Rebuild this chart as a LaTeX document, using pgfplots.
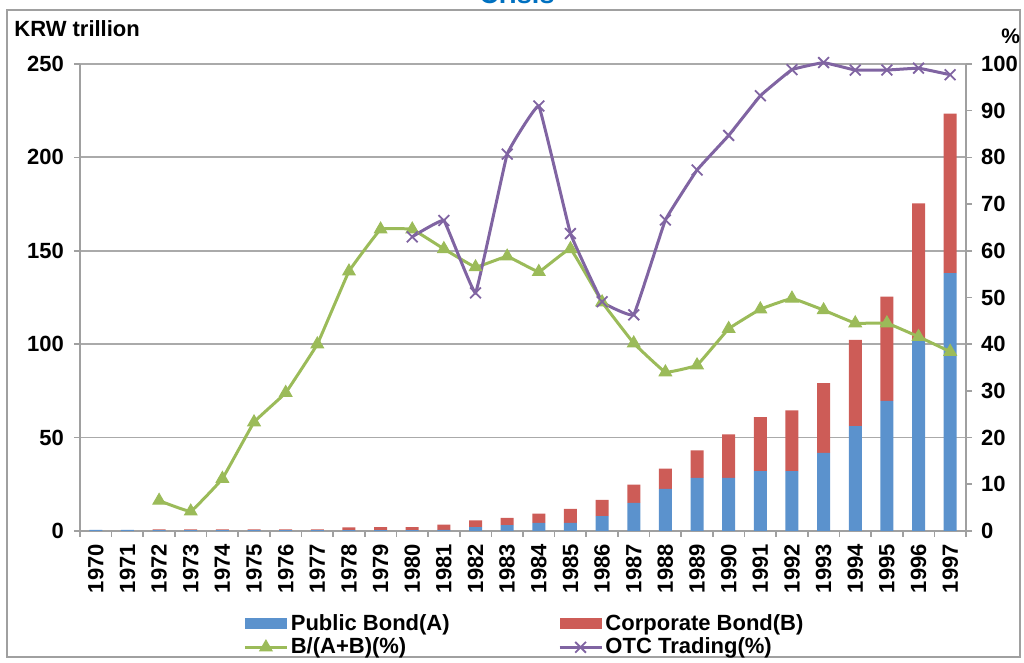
\documentclass[border=0pt]{standalone}
\usepackage{fontspec}
\setmainfont{Liberation Sans}
\usepackage{pgfplots}
\usepackage{pgfplotstable}
\pgfplotsset{compat=1.18}
\definecolor{cblue}{HTML}{5B92CD}
\definecolor{cred}{HTML}{CD5C57}
\definecolor{cgreen}{HTML}{9BBB59}
\definecolor{cpurple}{HTML}{8064A2}
\definecolor{ctitle}{HTML}{0070C0}
\definecolor{caxis}{HTML}{A0A0A0}
\pgfplotsset{
  barleg/.style={legend image code/.code={\fill[##1] (0pt,-2.6pt) rectangle (21pt,2.6pt);}},
  linleg/.style={legend image code/.code={\draw[##1, mark repeat=2, mark phase=2] plot coordinates {(0pt,0pt) (10.5pt,0pt) (21pt,0pt)};}},
}
\newcommand{\tfont}{\fontsize{10.5}{12}\selectfont\bfseries}

% bars: idx A(public) B(corporate)
\pgfplotstableread{
idx A B
0 0.6 0.0
1 0.6 0.0
2 0.5 0.3
3 0.5 0.3
4 0.5 0.3
5 0.5 0.4
6 0.5 0.4
7 0.5 0.4
8 0.4 1.6
9 0.4 1.7
10 0.4 1.7
11 0.6 2.8
12 2.1 3.6
13 3.1 3.9
14 4.4 4.9
15 4.4 7.4
16 7.9 8.7
17 15.0 9.8
18 22.5 10.9
19 28.4 14.7
20 28.4 23.3
21 32.0 29.0
22 32.0 32.6
23 41.8 37.3
24 56.2 46.1
25 69.6 55.9
26 102.0 73.4
27 138.0 85.4
}\bonds

\pgfplotstableread{
idx share
2 6.5
3 4.2
4 11.2
5 23.3
6 29.6
7 40.0
8 55.6
9 64.6
10 64.6
11 60.4
12 56.5
13 58.8
14 55.5
15 60.4
16 49.0
17 40.2
18 34.0
19 35.5
20 43.3
21 47.5
22 49.8
23 47.3
24 44.5
25 44.5
26 41.6
27 38.4
}\ratio

\pgfplotstableread{
idx otc
10 63.0
11 66.5
12 51.0
13 80.7
14 91.0
15 63.7
16 49.1
17 46.3
18 66.6
19 77.3
20 84.7
21 93.2
22 98.8
23 100.3
24 98.7
25 98.7
26 99.1
27 97.7
}\otc

\begin{document}
\begin{tikzpicture}
\useasboundingbox (0,0) rectangle (512pt,331.5pt);
\draw[caxis, line width=1.1pt] (3.5pt,3pt) rectangle (510pt,326.5pt);
\node[anchor=base, text=ctitle, font=\fontsize{13.5}{15}\selectfont\bfseries] at (258.5pt,329.5pt) {Crisis};
\node[anchor=base west, inner sep=0pt, font=\fontsize{11}{12}\selectfont\bfseries] at (7pt,313pt) {KRW trillion};
\node[anchor=base west, inner sep=0pt, font=\tfont] at (500.5pt,309.5pt) {\%};

\begin{axis}[
  at={(40pt,66pt)}, anchor=south west, scale only axis,
  width=443pt, height=233.5pt,
  xmin=-0.5, xmax=27.5, ymin=0, ymax=250,
  ybar stacked, bar width=6.5pt,
  axis x line*=bottom, axis y line*=left,
  axis line style={draw=caxis, line width=0.9pt, -},
  xtick={0,...,27},
  xticklabels={1970,1971,1972,1973,1974,1975,1976,1977,1978,1979,1980,1981,1982,1983,1984,1985,1986,1987,1988,1989,1990,1991,1992,1993,1994,1995,1996,1997},
  minor xtick={-0.5,0.5,...,27.5},
  major x tick style={draw=none},
  minor x tick style={draw=caxis, line width=0.8pt},
  minor tick length=3pt, major tick length=3pt,
  tick align=outside,
  ytick={0,50,...,250},
  y tick style={draw=caxis, line width=0.8pt},
  ymajorgrids, major grid style={draw=caxis!90, line width=0.9pt},
  x tick label style={rotate=90, anchor=east, font=\fontsize{11}{12}\selectfont\bfseries},
  y tick label style={font=\fontsize{11}{12}\selectfont\bfseries, /pgf/number format/assume math mode=true, xshift=-1.5pt},
]
\addplot[fill=cblue, draw=none] table[x=idx, y=A] {\bonds};
\addplot[fill=cred, draw=none] table[x=idx, y=B] {\bonds};
\end{axis}

\begin{axis}[
  at={(40pt,66pt)}, anchor=south west, scale only axis,
  width=443pt, height=233.5pt,
  xmin=-0.5, xmax=27.5, ymin=0, ymax=100,
  axis x line=none, axis y line*=right,
  axis line style={draw=caxis, line width=0.9pt, -},
  ytick={0,10,...,100},
  tick align=outside, major tick length=3pt,
  y tick style={draw=caxis, line width=0.8pt},
  y tick label style={font=\fontsize{11}{12}\selectfont\bfseries, /pgf/number format/assume math mode=true, xshift=1pt},
  clip=false,
  legend columns=2,
  legend cell align=left,
  legend style={at={(axis description cs:0.184,-0.172)}, anchor=north west,
    draw=none, fill=none, inner sep=0pt,
    font=\fontsize{11}{12}\selectfont\bfseries,
    nodes={inner sep=1.2pt},
    /tikz/every even column/.style={column sep=53pt}},
]
\addlegendimage{barleg, fill=cblue, draw=none}
\addlegendentry{Public Bond(A)}
\addlegendimage{barleg, fill=cred, draw=none}
\addlegendentry{Corporate Bond(B)}
\addplot[linleg, color=cgreen, line width=1.5pt, smooth, tension=0.12, mark=triangle*, mark size=3.6pt, mark options={fill=cgreen, draw=cgreen, line width=0.5pt}] table[x=idx, y=share] {\ratio};
\addlegendentry{B/(A+B)(\%)}
\addplot[linleg, color=cpurple, line width=1.5pt, smooth, tension=0.12, mark=x, mark size=3.8pt, mark options={line width=0.9pt}] table[x=idx, y=otc] {\otc};
\addlegendentry{OTC Trading(\%)}
\end{axis}
\end{tikzpicture}
\end{document}
